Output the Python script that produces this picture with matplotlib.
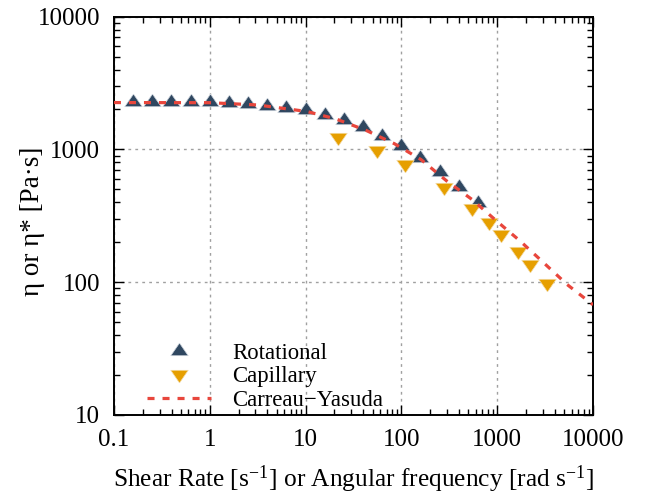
import matplotlib
matplotlib.use("Agg")
import matplotlib.pyplot as plt
from matplotlib.ticker import LogLocator, NullFormatter, FixedFormatter, FixedLocator

plt.rcParams['font.family'] = ['Liberation Serif', 'DejaVu Serif']
plt.rcParams['mathtext.fontset'] = 'stix'

# rotational rheometer (shear rate / angular frequency, viscosity)
rot_x = [0.158, 0.251, 0.398, 0.631, 1.0, 1.58, 2.51, 3.98, 6.31, 10.0,
         15.8, 25.1, 39.8, 63.1, 100, 158, 251, 398, 631]
rot_y = [2270, 2290, 2285, 2280, 2270, 2234, 2195, 2131, 2061, 1969,
         1824, 1656, 1466, 1261, 1055, 857, 676, 519, 397]

# capillary rheometer
cap_x = [22, 55, 110, 275, 550, 825, 1100, 1650, 2200, 3300]
cap_y = [1246, 988, 775, 518, 360, 282, 231, 173, 137, 98.6]

# Carreau-Yasuda fit
cy_x = [0.1, 1.0, 3.16, 10.3, 20.9, 43.0, 84.7, 161, 297, 543, 991,
        1738, 3055, 5370, 10000]
cy_y = [2255, 2250, 2163, 1932, 1694, 1390, 1104, 837, 579, 421, 288,
        204, 140, 96, 67.6]

tick_vals_x = [0.1, 1, 10, 100, 1000, 10000]
tick_labs_x = ['0.1', '1', '10', '100', '1000', '10000']
tick_vals_y = [10, 100, 1000, 10000]
tick_labs_y = ['10', '100', '1000', '10000']

# flattish gnuplot-like triangles, centred on their centroid
tri_up = [(0, 0.967), (-1, -0.483), (1, -0.483), (0, 0.967)]
tri_dn = [(0, -0.967), (-1, 0.483), (1, 0.483), (0, -0.967)]

fig = plt.figure(figsize=(6.51, 4.98), dpi=100)
ax = fig.add_axes([0.175, 0.1667, 0.736, 0.7998])

ax.plot(cy_x, cy_y, color='#e8463c', lw=2.3, dashes=(2.2, 2.5),
        label='Carreau\u2212Yasuda', zorder=3)
ax.plot(rot_x, rot_y, ls='none', marker=tri_up, ms=12.5, color='#2f4760',
        mec='#c9d1da', mew=0.5, label='Rotational', zorder=2)
ax.plot(cap_x, cap_y, ls='none', marker=tri_dn, ms=12.5, color='#e69f00',
        mec='#f3d9a0', mew=0.5, label='Capillary', zorder=2)

ax.set_xscale('log')
ax.set_yscale('log')
ax.set_xlim(0.1, 10000)
ax.set_ylim(10, 10000)

ax.xaxis.set_major_locator(FixedLocator(tick_vals_x))
ax.xaxis.set_major_formatter(FixedFormatter(tick_labs_x))
ax.yaxis.set_major_locator(FixedLocator(tick_vals_y))
ax.yaxis.set_major_formatter(FixedFormatter(tick_labs_y))
ax.xaxis.set_minor_locator(LogLocator(base=10, subs=range(2, 10)))
ax.yaxis.set_minor_locator(LogLocator(base=10, subs=range(2, 10)))
ax.xaxis.set_minor_formatter(NullFormatter())
ax.yaxis.set_minor_formatter(NullFormatter())

ax.tick_params(which='both', direction='in', top=True, right=True,
               labelsize=18, width=1.0, colors='black')
ax.tick_params(which='major', length=7, pad=10)
ax.tick_params(which='minor', length=4)
for s in ax.spines.values():
    s.set_linewidth(1.4)

ax.grid(which='major', color='#a0a0a0', lw=1.0, dashes=(2, 3))

ax.set_xlabel('Shear Rate [s$^{\\mathregular{-1}}$] or Angular frequency [rad s$^{\\mathregular{-1}}$]',
              fontsize=18.3, labelpad=9)
ax.set_ylabel('\u03b7 or \u03b7* [Pa\u00b7s]', fontsize=19.5)
ax.yaxis.set_label_coords(-0.144, 0.486)

h, l = ax.get_legend_handles_labels()
order = [1, 2, 0]
ax.legend([h[i] for i in order], [l[i] for i in order], loc='lower left',
          bbox_to_anchor=(0.068, 0.011), frameon=False, fontsize=16.4,
          handlelength=2.85, handletextpad=0.92, labelspacing=0.1,
          borderpad=0.0, borderaxespad=0.0)

fig.savefig('out.png', dpi=100)
